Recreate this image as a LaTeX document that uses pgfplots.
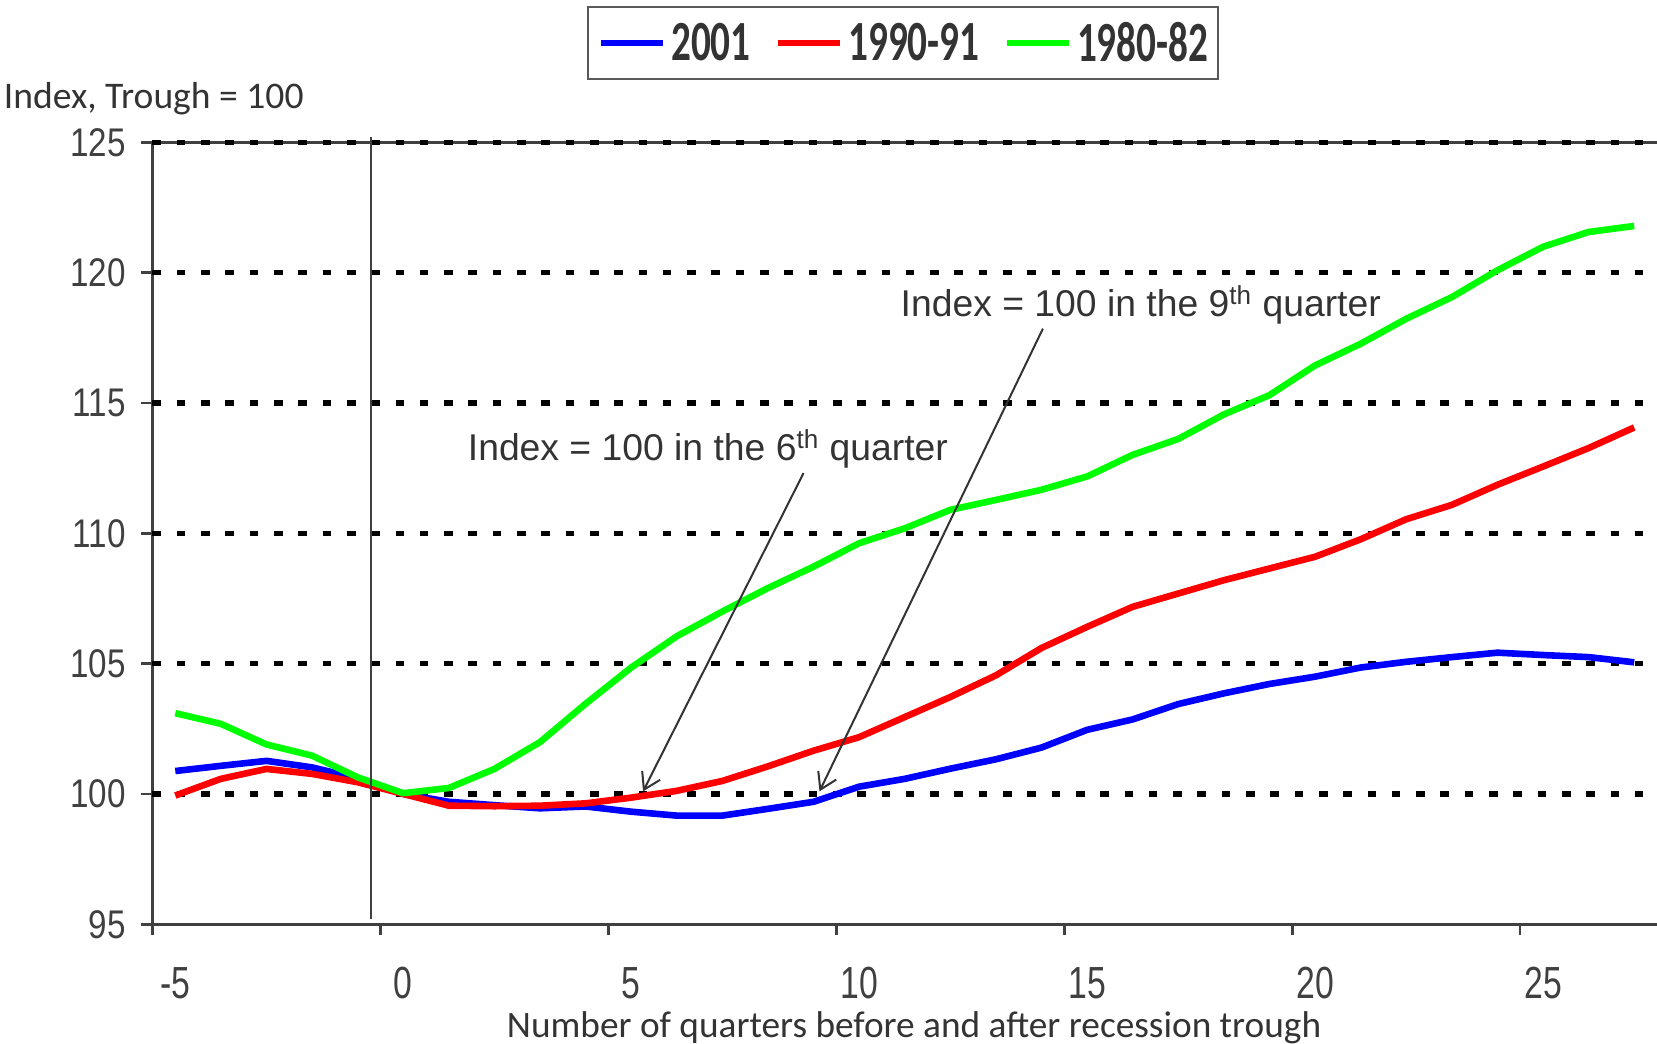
\documentclass[border=0pt]{standalone}
\usepackage{pgfplots}
\pgfplotsset{compat=1.18}
\usetikzlibrary{arrows.meta}
\usepackage{fontspec}
\setmainfont{Carlito}
\newfontfamily\arialfont{Liberation Sans}
\newfontfamily\ytickfont[FakeStretch=0.83]{Liberation Sans}
\newfontfamily\xtickfont[FakeStretch=0.75]{Liberation Sans}
\newfontfamily\legfont[FakeStretch=0.69]{Carlito}
\definecolor{txt}{HTML}{333333}
\definecolor{axc}{HTML}{404040}
\definecolor{legc}{HTML}{595959}
\definecolor{sblue}{HTML}{0000FF}
\definecolor{sred}{HTML}{FF0000}
\definecolor{sgreen}{HTML}{00FF00}

\pgfplotstableread{
q v
-5 100.88
-4 101.08
-3 101.27
-2 101.02
-1 100.60
0 100.00
1 99.70
2 99.57
3 99.45
4 99.52
5 99.32
6 99.17
7 99.17
8 99.43
9 99.70
10 100.28
11 100.58
12 100.97
13 101.33
14 101.78
15 102.46
16 102.86
17 103.45
18 103.86
19 104.22
20 104.50
21 104.85
22 105.07
23 105.25
24 105.42
25 105.33
26 105.25
27 105.05
}\blue

\pgfplotstableread{
q v
-5 99.94
-4 100.58
-3 100.96
-2 100.77
-1 100.45
0 100.00
1 99.55
2 99.53
3 99.55
4 99.64
5 99.86
6 100.12
7 100.50
8 101.06
9 101.66
10 102.18
11 102.95
12 103.72
13 104.55
14 105.60
15 106.41
16 107.18
17 107.69
18 108.20
19 108.65
20 109.10
21 109.77
22 110.54
23 111.09
24 111.86
25 112.56
26 113.27
27 114.06
}\red

\pgfplotstableread{
q v
-5 103.10
-4 102.69
-3 101.90
-2 101.47
-1 100.64
0 100.03
1 100.23
2 100.96
3 101.99
4 103.46
5 104.85
6 106.05
7 107.00
8 107.90
9 108.72
10 109.62
11 110.19
12 110.90
13 111.28
14 111.67
15 112.18
16 113.01
17 113.62
18 114.56
19 115.30
20 116.44
21 117.27
22 118.23
23 119.06
24 120.09
25 120.99
26 121.56
27 121.79
}\green

\begin{document}
\begin{tikzpicture}
\path[use as bounding box] (-76.25bp,-59.85bp) rectangle (752.25bp,462.15bp);
\draw[axc, line width=1.25bp] (0bp,391bp) -- (752.25bp,391bp);
\begin{axis}[
  at={(0,0)}, anchor=south west,
  scale only axis, width=752.25bp, height=391bp,
  xmin=-5.5, xmax=27.5, ymin=95, ymax=125,
  clip=false,
  axis lines*=left,
  axis line style={axc, line width=1.25bp},
  tick align=outside,
  tick style={axc, line width=1.25bp},
  major tick length=5.5bp,
  xtick={-5.5,-0.5,4.5,9.5,14.5,19.5,24.5},
  xticklabels={},
  extra x ticks={-5,0,5,10,15,20,25},
  extra x tick labels={-5,0,5,10,15,20,25},
  extra x tick style={major tick length=0pt},
  xticklabel style={font=\xtickfont\fontsize{22.5bp}{24bp}\selectfont, text=axc, anchor=center, inner sep=0pt, yshift=-29.35bp},
  ytick={95,100,105,110,115,120,125},
  yticklabels={95,100,105,110,115,120,125},
  extra y ticks={100,105,110,115,120,125},
  extra y tick labels={},
  extra y tick style={grid=major, major tick length=0pt},
  major grid style={black, line width=2.6bp, dash pattern=on 4.3bp off 7.85bp},
  yticklabel style={font=\ytickfont\fontsize{20bp}{22bp}\selectfont, text=axc, anchor=east, inner sep=0pt, xshift=-7.6bp},
  legend columns=3,
  legend style={at={(axis description cs:0.4988,1.127)}, anchor=center, draw=legc, line width=0.9bp,
    inner xsep=5bp, inner ysep=7.5bp, font=\legfont\bfseries\fontsize{28.4bp}{30bp}\selectfont, text=txt,
    nodes={inner sep=0pt},
    /tikz/every even column/.append style={column sep=12bp},
    /tikz/every odd column/.append style={column sep=2.5bp}},
  legend image code/.code={\draw[#1, line width=3.3bp] (0bp,0bp) -- (31bp,0bp);},
]
\addplot[sblue, line width=3.3bp, line join=round] table[x=q, y=v] {\blue};
\addlegendentry{2001}
\addplot[sred, line width=3.3bp, line join=round] table[x=q, y=v] {\red};
\addlegendentry{1990-91}
\addplot[sgreen, line width=3.3bp, line join=round] table[x=q, y=v] {\green};
\addlegendentry{1980-82}
\addplot[axc, line width=1bp, forget plot] coordinates {(-0.71,95.2) (-0.71,125.2)};
\draw[txt, line width=1bp, -{Straight Barb[length=8bp,width=10bp]}] (axis cs:8.78,112.31) -- (axis cs:5.26,100.1);
\draw[txt, line width=1bp, -{Straight Barb[length=8bp,width=10bp]}] (axis cs:14.03,117.85) -- (axis cs:9.13,100.1);
\end{axis}
\node[anchor=base west, inner sep=0pt, font=\arialfont\fontsize{18.65bp}{22bp}\selectfont, text=txt] at (157.5bp,231.65bp) {Index = 100 in the 6\textsuperscript{th} quarter};
\node[anchor=base west, inner sep=0pt, font=\arialfont\fontsize{18.65bp}{22bp}\selectfont, text=txt] at (373.9bp,303.8bp) {Index = 100 in the 9\textsuperscript{th} quarter};
\node[anchor=base west, inner sep=0pt, font=\fontsize{18.8bp}{22bp}\selectfont, text=txt] at (-74.5bp,407.75bp) {Index, Trough = 100};
\node[anchor=base, inner sep=0pt, font=\fontsize{18.65bp}{22bp}\selectfont, text=txt] at (380.75bp,-56.75bp) {Number of quarters before and after recession trough};
\end{tikzpicture}
\end{document}
